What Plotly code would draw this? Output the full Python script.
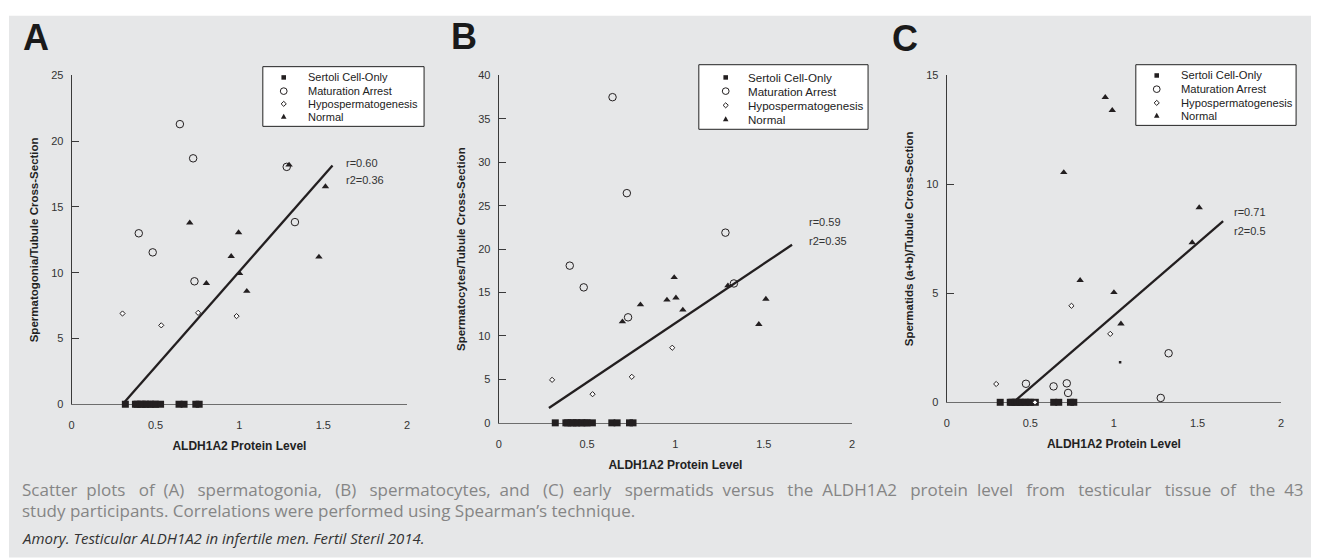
import plotly.graph_objects as go

# ---------------- data ----------------
X_TICKS = [0, 0.5, 1, 1.5, 2]
SERIES = ["Sertoli Cell-Only", "Maturation Arrest", "Hypospermatogenesis", "Normal"]

SCO_X = [0.32, 0.38, 0.39, 0.41, 0.42, 0.44, 0.45, 0.47, 0.49, 0.50, 0.53, 0.64, 0.67, 0.74, 0.76]
SCO_Y = [0, 0, 0, 0, 0, 0, 0, 0, 0, 0, 0, 0, 0, 0, 0]

# Panel A: spermatogonia
A_MA_X = [0.645, 0.724, 1.282, 1.331, 0.40, 0.483, 0.732]
A_MA_Y = [21.3, 18.7, 18.05, 13.85, 13.0, 11.55, 9.35]
A_HYPO_X = [0.303, 0.534, 0.754, 0.983]
A_HYPO_Y = [6.9, 6.0, 6.95, 6.7]
A_NORM_X = [1.296, 1.513, 0.704, 0.995, 0.951, 1.474, 1.001, 0.803, 1.044]
A_NORM_Y = [18.2, 16.55, 13.8, 13.05, 11.25, 11.2, 9.95, 9.2, 8.6]
A_FIT_X = [0.31, 1.555]
A_FIT_Y = [0.1, 18.15]
A_STATS = ["r=0.60", "r2=0.36"]

# Panel B: spermatocytes
B_MA_X = [0.644, 0.725, 1.283, 0.402, 0.481, 0.732, 1.331]
B_MA_Y = [37.5, 26.45, 21.9, 18.1, 15.6, 12.15, 16.05]
B_HYPO_X = [0.302, 0.753, 0.531, 0.982]
B_HYPO_Y = [4.95, 5.3, 3.3, 8.65]
B_NORM_X = [0.993, 1.003, 0.952, 1.512, 0.802, 1.042, 0.700, 1.472, 1.297]
B_NORM_Y = [16.75, 14.4, 14.15, 14.25, 13.6, 13.0, 11.65, 11.35, 15.8]
B_FIT_X = [0.284, 1.66]
B_FIT_Y = [1.7, 20.5]
B_STATS = ["r=0.59", "r2=0.35"]

# Panel C: early spermatids
C_MA_X = [1.327, 0.474, 0.639, 0.718, 0.726, 1.280]
C_MA_Y = [2.25, 0.85, 0.73, 0.87, 0.43, 0.2]
C_HYPO_X = [0.296, 0.746, 0.978, 0.528]
C_HYPO_Y = [0.84, 4.43, 3.14, 0.0]
C_NORM_X = [0.948, 0.990, 0.700, 1.510, 1.468, 0.798, 1.0, 1.042]
C_NORM_Y = [14.0, 13.4, 10.55, 8.94, 7.33, 5.6, 5.04, 3.6]
C_DOT_X = [1.037]
C_DOT_Y = [1.84]
C_FIT_X = [0.409, 1.653]
C_FIT_Y = [0.07, 8.31]
C_STATS = ["r=0.71", "r2=0.5"]

CAPTION_1 = ("Scatter plots of (A) spermatogonia, (B) spermatocytes, and (C) early spermatids versus "
             "the ALDH1A2 protein level from testicular tissue of the 43")
CAPTION_2 = "study participants. Correlations were performed using Spearman\u2019s technique."
CITATION = "Amory. Testicular ALDH1A2 in infertile men. Fertil Steril 2014."

# ---------------- layout helpers ----------------
W, H = 1319, 558
BG = "#e6e7e8"
INK = "#231f20"
AX = "#3a3a3a"
FONT = "Liberation Sans, Arial, sans-serif"
CAP_FONT = "Open Sans, sans-serif"


def fx(p):
    return p / W


def fy(p):
    return 1 - p / H


def justify(text):
    # first caption line is justified in the reference: widen the word gaps
    words = text.split(" ")
    out = words[0]
    for k, w in enumerate(words[1:]):
        extra = 2 if (k % 2 == 1 or k in (4, 16)) else 1
        out += " " + "\u00a0" * extra + w
    return out


panels = [
    dict(letter="A", xs=(69, 406), ys=(71, 407), yr=25, dtick=5,
         ytitle="Spermatogonia/Tubule Cross-Section",
         ma=(A_MA_X, A_MA_Y), hy=(A_HYPO_X, A_HYPO_Y), no=(A_NORM_X, A_NORM_Y),
         fit=(A_FIT_X, A_FIT_Y), stats=A_STATS, stat_px=(343, 160, 178),
         letter_px=(33.5, 32), legend_px=(261, 62, 423, 123), rows=(11, 25, 38, 51),
         sym_off=21, txt_off=43, lfont=11),
    dict(letter="B", xs=(498, 853), ys=(71, 426), yr=40, dtick=5,
         ytitle="Spermatocytes/Tubule Cross-Section",
         ma=(B_MA_X, B_MA_Y), hy=(B_HYPO_X, B_HYPO_Y), no=(B_NORM_X, B_NORM_Y),
         fit=(B_FIT_X, B_FIT_Y), stats=B_STATS, stat_px=(808, 221, 240),
         letter_px=(463, 31), legend_px=(699, 60, 869, 126), rows=(13, 27, 41.5, 55.5),
         sym_off=27, txt_off=47, lfont=11.6),
    dict(letter="C", xs=(948, 1284), ys=(71, 405), yr=15, dtick=5,
         ytitle="Spermatids (a+b)/Tubule Cross-Section",
         ma=(C_MA_X, C_MA_Y), hy=(C_HYPO_X, C_HYPO_Y), no=(C_NORM_X, C_NORM_Y),
         fit=(C_FIT_X, C_FIT_Y), stats=C_STATS, stat_px=(1235, 211, 229.5),
         letter_px=(906.5, 33), legend_px=(1138, 60, 1299, 122), rows=(11, 25, 39, 52),
         sym_off=21, txt_off=43, lfont=11.2),
]

fig = go.Figure()
shapes = []
annotations = []

# background
shapes.append(dict(type="rect", xref="paper", yref="paper", x0=fx(6), x1=fx(1314), y0=-0.01, y1=fy(10),
                   fillcolor=BG, line=dict(width=0), layer="below"))

for i, p in enumerate(panels):
    n = "" if i == 0 else str(i + 1)
    xa, ya = "x" + n, "y" + n
    # fit line
    fig.add_trace(go.Scatter(x=p["fit"][0], y=p["fit"][1], mode="lines", xaxis=xa, yaxis=ya,
                             line=dict(color=INK, width=2.3), showlegend=False, hoverinfo="skip"))
    fig.add_trace(go.Scatter(x=SCO_X, y=SCO_Y, mode="markers", name=SERIES[0], xaxis=xa, yaxis=ya,
                             marker=dict(symbol="square", size=7, color=INK, line=dict(width=0)),
                             cliponaxis=False, showlegend=False))
    fig.add_trace(go.Scatter(x=p["ma"][0], y=p["ma"][1], mode="markers", name=SERIES[1], xaxis=xa, yaxis=ya,
                             marker=dict(symbol="circle-open", size=7.5, color=INK, line=dict(width=1, color=INK)),
                             cliponaxis=False, showlegend=False))
    fig.add_trace(go.Scatter(x=p["hy"][0], y=p["hy"][1], mode="markers", name=SERIES[2], xaxis=xa, yaxis=ya,
                             marker=dict(symbol="diamond", size=4, color="white", line=dict(width=1, color=INK)),
                             cliponaxis=False, showlegend=False))
    fig.add_trace(go.Scatter(x=p["no"][0], y=p["no"][1], mode="markers", name=SERIES[3], xaxis=xa, yaxis=ya,
                             marker=dict(symbol="triangle-up", size=6.5, color=INK, line=dict(width=0)),
                             cliponaxis=False, showlegend=False))
    if p["letter"] == "C":
        fig.add_trace(go.Scatter(x=C_DOT_X, y=C_DOT_Y, mode="markers", name=SERIES[3], xaxis=xa, yaxis=ya,
                                 marker=dict(symbol="square", size=2.5, color=INK, line=dict(width=0)),
                                 showlegend=False))

    x0, x1 = p["xs"]
    y0, y1 = p["ys"]
    fig.update_layout(**{
        "xaxis" + n: dict(domain=[fx(x0), fx(x1)], range=[0, 2], tickvals=X_TICKS, ticks="",
                          showline=True, linecolor="#6d6d6d", linewidth=1, showgrid=False, zeroline=False,
                          tickfont=dict(family=FONT, size=11, color="#333"), ticklabelstandoff=11,
                          anchor=ya, layer="below traces", fixedrange=True,
                          title=dict(text="ALDH1A2 Protein Level", standoff=11,
                                     font=dict(family=FONT, size=12, color="#222", weight="bold"))),
        "yaxis" + n: dict(domain=[fy(y1), fy(y0)], range=[0, p["yr"]], dtick=p["dtick"], ticks="inside",
                          ticklen=7, tickwidth=1, tickcolor=AX, showline=True, linecolor=AX, linewidth=1.2,
                          showgrid=False, zeroline=False, anchor=xa, fixedrange=True,
                          tickfont=dict(family=FONT, size=11, color="#333"), ticklabelstandoff=5,
                          title=dict(text=p["ytitle"], standoff=10,
                                     font=dict(family=FONT, size=11.5, color="#222", weight="bold"))),
    })

    # stats text
    sx, sy1, sy2 = p["stat_px"]
    for txt, sy in zip(p["stats"], (sy1, sy2)):
        annotations.append(dict(text=txt, xref="paper", yref="paper", x=fx(sx), y=fy(sy), xanchor="left",
                                yanchor="middle", showarrow=False, font=dict(family=FONT, size=11, color="#333")))
    # panel letter
    lx, ly = p["letter_px"]
    annotations.append(dict(text="<b>" + p["letter"] + "</b>", xref="paper", yref="paper", x=fx(lx), y=fy(ly),
                            xanchor="center", yanchor="middle", showarrow=False,
                            font=dict(family=FONT, size=36, color="#1a1a1a")))

    # legend box (drawn)
    bx0, by0, bx1, by1 = p["legend_px"]
    shapes.append(dict(type="rect", xref="paper", yref="paper", x0=fx(bx0), x1=fx(bx1), y0=fy(by1), y1=fy(by0),
                       fillcolor="white", line=dict(color="#222", width=1)))
    sxc = bx0 + p["sym_off"]
    for k, (name, dy) in enumerate(zip(SERIES, p["rows"])):
        cy = by0 + dy
        if k == 0:
            s = 2.3
            shapes.append(dict(type="rect", xref="paper", yref="paper", x0=fx(sxc - s), x1=fx(sxc + s),
                               y0=fy(cy + s), y1=fy(cy - s), fillcolor=INK, line=dict(width=0)))
        elif k == 1:
            s = 3.4
            shapes.append(dict(type="circle", xref="paper", yref="paper", x0=fx(sxc - s), x1=fx(sxc + s),
                               y0=fy(cy + s), y1=fy(cy - s), fillcolor="white", line=dict(color=INK, width=1)))
        elif k == 2:
            s = 2.6
            path = "M{a},{b} L{c},{d} L{e},{b} L{c},{f} Z".format(
                a=fx(sxc - s), b=fy(cy), c=fx(sxc), d=fy(cy - s), e=fx(sxc + s), f=fy(cy + s))
            shapes.append(dict(type="path", xref="paper", yref="paper", path=path, fillcolor="white",
                               line=dict(color=INK, width=1)))
        else:
            s = 2.8
            path = "M{a},{b} L{c},{d} L{e},{b} Z".format(
                a=fx(sxc - s), b=fy(cy + s * 0.8), c=fx(sxc), d=fy(cy - s * 1.0), e=fx(sxc + s))
            shapes.append(dict(type="path", xref="paper", yref="paper", path=path, fillcolor=INK,
                               line=dict(width=0)))
        annotations.append(dict(text=name, xref="paper", yref="paper", x=fx(bx0 + p["txt_off"]), y=fy(cy),
                                xanchor="left", yanchor="middle", showarrow=False,
                                font=dict(family=FONT, size=p["lfont"], color="#222")))

# caption
annotations.append(dict(text=justify(CAPTION_1), xref="paper", yref="paper", x=fx(17), y=fy(494), xanchor="left",
                        yanchor="middle", showarrow=False, font=dict(family=CAP_FONT, size=17, color="#858585")))
annotations.append(dict(text=CAPTION_2, xref="paper", yref="paper", x=fx(17), y=fy(516), xanchor="left",
                        yanchor="middle", showarrow=False, font=dict(family=CAP_FONT, size=17, color="#858585")))
annotations.append(dict(text="<i>" + CITATION + "</i>", xref="paper", yref="paper", x=fx(17), y=fy(544),
                        xanchor="left", yanchor="middle", showarrow=False,
                        font=dict(family=CAP_FONT, size=15, color="#333")))

fig.update_layout(width=W, height=H, margin=dict(l=0, r=0, t=0, b=0), paper_bgcolor="white",
                  plot_bgcolor="rgba(0,0,0,0)", showlegend=False, shapes=shapes, annotations=annotations)

fig.write_html("out.html", config={"displayModeBar": False, "staticPlot": False},
               post_script="document.body.style.margin='0';document.documentElement.style.overflow='hidden';")
